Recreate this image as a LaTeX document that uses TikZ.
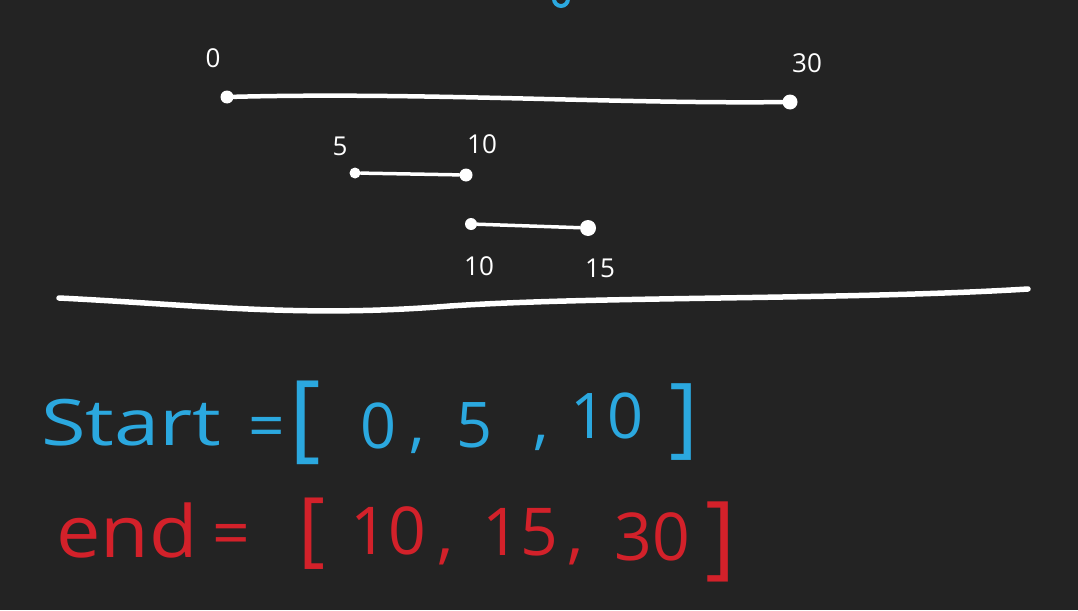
\documentclass[tikz,border=0pt]{standalone}
\usepackage{fontspec}
\setmainfont{Open Sans}
\definecolor{bg}{HTML}{232323}
\definecolor{chalkblue}{HTML}{2BA8DF}
\definecolor{chalkred}{HTML}{D3212A}
\begin{document}
\begin{tikzpicture}[x=1pt,y=-1pt,
  dotnode/.style={circle, fill=white, inner sep=0pt, minimum size=#1},
  seg/.style={white, line width=3.5pt, line cap=round},
  lbl/.style={text=white, font=\fontsize{26}{26}\selectfont, inner sep=0pt, anchor=base},
  bluetxt/.style={text=chalkblue, font=\fontsize{#1}{#1}\selectfont, inner sep=0pt, anchor=base},
  redtxt/.style={text=chalkred, font=\fontsize{#1}{#1}\selectfont, inner sep=0pt, anchor=base}]
\fill[bg] (0,0) rectangle (1078,610);
\useasboundingbox (0,0) rectangle (1078,610);

% partial blue glyph at the top edge
\draw[chalkblue, line width=4pt] (561,-1) circle[radius=7];

% interval 0..30
\node[dotnode=13pt] (d0) at (227,97) {};
\node[dotnode=15pt] (d30) at (790,102) {};
\draw[seg, line width=4.5pt] (d0) .. controls (420,92) and (620,104) .. (d30);
\node[lbl] (l0) at (213,67) {0};
\node[lbl] (l30) at (807,73) {30};

% interval 5..10
\node[dotnode=11pt] (d5) at (355,173) {};
\node[dotnode=13pt] (d10a) at (466,175) {};
\draw[seg] (d5) -- (d10a);
\node[lbl] (l5) at (340,155) {5};
\node[lbl] (l10a) at (482,153) {10};

% interval 10..15
\node[dotnode=12pt] (d10b) at (471,224) {};
\node[dotnode=16pt] (d15) at (588,228) {};
\draw[seg] (d10b) -- (d15);
\node[lbl] (l10b) at (479,275) {10};
\node[lbl] (l15) at (600,277) {15};

% separator
\coordinate (sepL) at (59,298);
\coordinate (sepR) at (1028,289);
\draw[white, line width=5.5pt, line cap=round] (sepL) .. controls (200,305) and (300,318) .. (450,306) .. controls (600,296) and (850,300) .. (sepR);

% start = [0, 5 ,10]
\node[bluetxt=64, anchor=base west, xscale=1.27] (start) at (41,445) {Start};
\node[bluetxt=64] (beq) at (267,448) {=};
\node[bluetxt=96, anchor=base west] (blb) at (289,449) {[};
\node[bluetxt=63] (b0) at (379,448) {0};
\node[bluetxt=63] (bc1) at (417,445) {,};
\node[bluetxt=63] (b5) at (475,447) {5};
\node[bluetxt=63] (bc2) at (541,442) {,};
\node[bluetxt=63] (b10) at (607,438) {10};
\node[bluetxt=88, anchor=base east] (brb) at (699,446) {]};

% end= [10,15,30]
\node[redtxt=72, anchor=base west, xscale=1.1] (endw) at (56,557) {end};
\node[redtxt=66] (req) at (231,556) {=};
\node[redtxt=82, anchor=base west] (rlb) at (298,556) {[};
\node[redtxt=66] (r10) at (388,554) {10};
\node[redtxt=66] (rc1) at (446,556) {,};
\node[redtxt=66] (r15) at (520,555) {15};
\node[redtxt=66] (rc2) at (576,556) {,};
\node[redtxt=66] (r30) at (652,560) {30};
\node[redtxt=92, anchor=base east] (rrb) at (736,567) {]};
\end{tikzpicture}
\end{document}
